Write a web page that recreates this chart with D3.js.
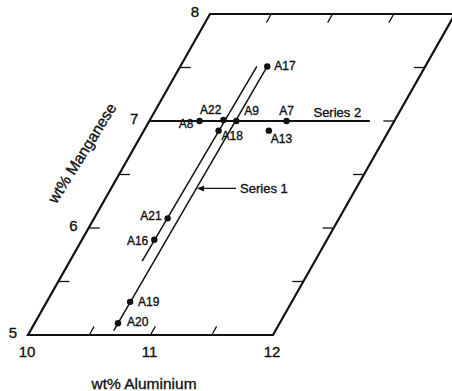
<!DOCTYPE html>
<html>
<head>
<meta charset="utf-8">
<script src="https://cdn.jsdelivr.net/npm/d3@7"></script>
<style>
html, body { margin: 0; padding: 0; background: #fff; }
svg { display: block; }
text { font-family: "Liberation Sans", Arial, Helvetica, sans-serif; fill: #111; stroke: #111; stroke-width: 0.35px; }
</style>
</head>
<body>
<svg id="chart" width="452" height="391"></svg>
<script>
// ---- data ----
const pointNames = ["A17", "A22", "A8", "A9", "A7", "A18", "A13", "A21", "A16", "A19", "A20"];
const aluminium  = [10.71, 10.60, 10.41, 10.71, 11.12, 10.61, 11.02, 10.60, 10.59, 10.68, 10.68];
const manganese  = [7.51, 7.01, 7.00, 7.00, 7.00, 6.91, 6.91, 6.09, 5.89, 5.31, 5.11];

const series1Al = [10.68, 10.71];          // right trend line (Series 1)
const series1Mn = [5.04, 7.51];
const series1MarkerAl = 10.71, series1MarkerMn = 6.37;
const trendBAl = [10.59, 10.625];          // left parallel trend line
const trendBMn = [5.69, 7.51];
const series2Al = [10.0, 11.8];            // horizontal line (Series 2)
const series2Mn = [7.0, 7.0];
const series2LabelAl = 11.34;

const alTickLabels = [10, 11, 12];
const mnTickLabels = [5, 6, 7, 8];
const alMinorTicks = [10.5, 11, 11.5];
const mnMinorTicks = [5.5, 6, 6.5, 7, 7.5];

// ---- layout ----
const svg = d3.select("#chart");
const xAl = d3.scaleLinear().domain([10, 12]).range([28, 273]);
const yMn = d3.scaleLinear().domain([5, 8]).range([335, 14]);
const shear = d3.scaleLinear().domain([5, 8]).range([0, 182]);
const P = (al, mn) => [xAl(al) + shear(mn), yMn(mn)];

const line = d3.line();

// frame (parallelogram)
const corners = [P(10, 5), P(12, 5), P(12, 8), P(10, 8)];
svg.append("path")
  .attr("d", line(corners) + "Z")
  .attr("fill", "none").attr("stroke", "#111").attr("stroke-width", 2.2)
  .attr("stroke-linejoin", "miter");

// ticks
const tickG = svg.append("g").attr("stroke", "#111").attr("stroke-width", 1.3);
alMinorTicks.forEach(a => {
  tickG.append("path").attr("d", line([P(a, 5), P(a, 5.08)]));
  tickG.append("path").attr("d", line([P(a, 8), P(a, 7.92)]));
});
mnMinorTicks.forEach(m => {
  const l = P(10, m), r = P(12, m);
  tickG.append("path").attr("d", line([l, [l[0] + 11, l[1]]]));
  tickG.append("path").attr("d", line([r, [r[0] - 11, r[1]]]));
});

// tick labels
svg.append("g").selectAll("text").data(alTickLabels).join("text")
  .attr("x", d => P(d, 5)[0] - 1)
  .attr("y", 357)
  .attr("text-anchor", "middle")
  .attr("font-size", 15)
  .text(d => d);
svg.append("g").selectAll("text").data(mnTickLabels).join("text")
  .attr("x", d => P(10, d)[0] - 11)
  .attr("y", d => P(10, d)[1] + 3)
  .attr("text-anchor", "end")
  .attr("font-size", 15)
  .text(d => d);

// axis titles
svg.append("text")
  .attr("x", 144).attr("y", 389)
  .attr("text-anchor", "middle").attr("font-size", 15.5)
  .text("wt% Aluminium");
svg.append("text")
  .attr("transform", "translate(82,153) rotate(-58)")
  .attr("text-anchor", "middle").attr("dominant-baseline", "central")
  .attr("font-size", 15.5)
  .text("wt% Manganese");

// trend lines
const lineG = svg.append("g").attr("fill", "none").attr("stroke", "#111").attr("stroke-width", 1.5);
lineG.append("path").attr("d", line(series1Al.map((a, i) => P(a, series1Mn[i]))));
lineG.append("path").attr("d", line(trendBAl.map((a, i) => P(a, trendBMn[i]))));
lineG.append("path").attr("d", line(series2Al.map((a, i) => P(a, series2Mn[i])))).attr("stroke-width", 1.8);

// Series 1 marker + pointer
const m1 = P(series1MarkerAl, series1MarkerMn);
svg.append("path")
  .attr("d", line([[m1[0] - 1, m1[1]], [m1[0] + 6, m1[1] - 3], [m1[0] + 6, m1[1] + 3]]) + "Z")
  .attr("fill", "#111");
svg.append("path")
  .attr("d", line([m1, [m1[0] + 38, m1[1]]]))
  .attr("stroke", "#111").attr("stroke-width", 1.2);
svg.append("text")
  .attr("x", m1[0] + 42).attr("y", m1[1] + 4.5)
  .attr("font-size", 13).text("Series 1");

// Series 2 label
const s2 = P(series2LabelAl, 7);
svg.append("text")
  .attr("x", s2[0]).attr("y", s2[1] - 4)
  .attr("font-size", 13).text("Series 2");

// points
const pts = pointNames.map((n, i) => ({ name: n, p: P(aluminium[i], manganese[i]) }));
svg.append("g").selectAll("circle").data(pts).join("circle")
  .attr("cx", d => d.p[0]).attr("cy", d => d.p[1])
  .attr("r", 3.2).attr("fill", "#111");

// point label placement (dx, dy, anchor)
const place = {
  A17: [7, 4, "start"], A22: [-2, -6, "end"], A8: [-6, 7, "end"], A9: [8, -6, "start"],
  A7: [0, -6, "middle"], A18: [3, 9, "start"], A13: [2, 12, "start"], A21: [-6, 2, "end"],
  A16: [-6, 5, "end"], A19: [8, 4, "start"], A20: [9, 3, "start"]
};
svg.append("g").selectAll("text").data(pts).join("text")
  .attr("x", d => d.p[0] + place[d.name][0])
  .attr("y", d => d.p[1] + place[d.name][1])
  .attr("text-anchor", d => place[d.name][2])
  .attr("font-size", 12)
  .text(d => d.name);
</script>
</body>
</html>
